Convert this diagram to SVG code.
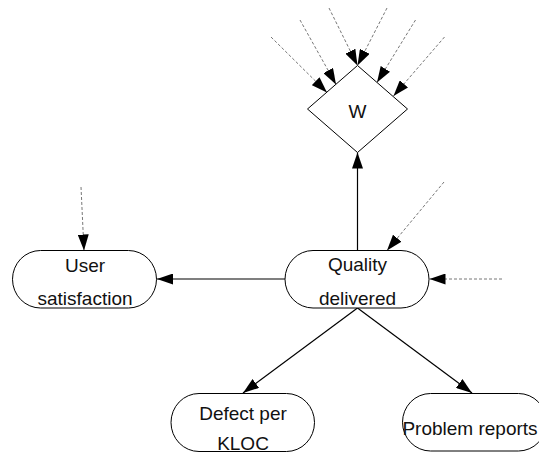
<svg xmlns="http://www.w3.org/2000/svg" width="539" height="453" viewBox="0 0 539 453">
  <defs>
    <marker id="head" markerUnits="userSpaceOnUse" markerWidth="17" markerHeight="11" refX="16" refY="5.5" orient="auto">
      <path d="M0,0 L16,5.5 L0,11 Z" fill="#000"/>
    </marker>
  </defs>
  <style>
    .node { fill: #fff; stroke: #000; stroke-width: 1; }
    .label { font-family: "Liberation Sans", Arial, sans-serif; font-size: 19px; fill: #111; text-anchor: middle; }
    .flow { stroke: #000; stroke-width: 1.2; fill: none; marker-end: url(#head); }
    .input { stroke: #777; stroke-width: 1; stroke-dasharray: 3 2; fill: none; marker-end: url(#head); }
  </style>
  <rect width="539" height="453" fill="#fff"/>

  <g id="connectors">
    <!-- solid flows out of Quality delivered -->
    <line class="flow" x1="357.5" y1="250.5" x2="357.5" y2="152.5"/>
    <line class="flow" x1="285" y1="279" x2="157" y2="279"/>
    <line class="flow" x1="357.5" y1="308" x2="243" y2="393"/>
    <line class="flow" x1="357.5" y1="308" x2="472" y2="393"/>
    <!-- dashed external inputs -->
    <line class="input" x1="271" y1="37" x2="327" y2="92.5"/>
    <line class="input" x1="300" y1="20" x2="336" y2="84.5"/>
    <line class="input" x1="329" y1="8" x2="357.5" y2="65.5"/>
    <line class="input" x1="387" y1="8" x2="357.5" y2="65.5"/>
    <line class="input" x1="415.5" y1="20" x2="377" y2="82.5"/>
    <line class="input" x1="444.5" y1="37" x2="393.5" y2="96"/>
    <line class="input" x1="81" y1="187" x2="84" y2="250.5"/>
    <line class="input" x1="444" y1="182" x2="387" y2="250.5"/>
    <line class="input" x1="502" y1="279" x2="429.5" y2="279"/>
  </g>

  <g id="node-w">
    <polygon class="node" points="357.5,65.5 407.5,109 357.5,152.5 307.5,109"/>
    <text class="label" x="357.5" y="118">W</text>
  </g>

  <g id="node-user-satisfaction">
    <rect class="node" x="12.5" y="250.5" width="144" height="57.5" rx="28" ry="28.75"/>
    <text class="label" x="85" y="272">User</text>
    <text class="label" x="85" y="305">satisfaction</text>
  </g>

  <g id="node-quality-delivered">
    <rect class="node" x="285" y="250.5" width="144" height="57.5" rx="28" ry="28.75"/>
    <text class="label" x="357.5" y="271">Quality</text>
    <text class="label" x="357.5" y="305">delivered</text>
  </g>

  <g id="node-defect-per-kloc">
    <rect class="node" x="171" y="393.5" width="143.5" height="58" rx="28" ry="29"/>
    <text class="label" x="243" y="420">Defect per</text>
    <text class="label" x="243" y="450">KLOC</text>
  </g>

  <g id="node-problem-reports">
    <rect class="node" x="402.5" y="393.5" width="144" height="57.5" rx="28" ry="28.75"/>
    <text class="label" x="470" y="435">Problem reports</text>
  </g>
</svg>
